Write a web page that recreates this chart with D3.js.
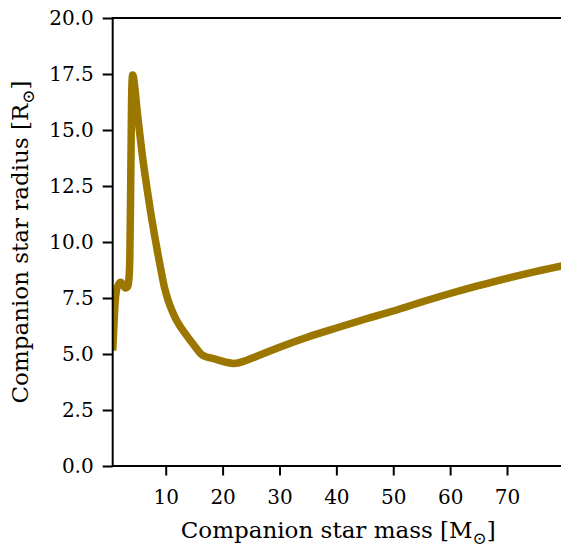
<!DOCTYPE html>
<html>
<head>
<meta charset="utf-8">
<script src="https://cdn.jsdelivr.net/npm/d3@7"></script>
<style>
  html, body { margin: 0; padding: 0; background: #fff; }
  svg text { font-family: "DejaVu Serif", "Liberation Serif", serif; fill: #000; }
</style>
</head>
<body>
<svg id="chart" width="561" height="549"></svg>
<script>
// Companion star mass (solar masses) and radius (solar radii)
const companionMass = [
  0.68, 0.9, 1.1, 1.35, 1.7, 2.1, 2.5, 2.9, 3.3, 3.55, 3.7, 3.8, 3.9, 4.0, 4.1, 4.2,
  4.35, 4.5, 4.65, 4.9, 5.15, 5.5, 5.9, 6.3, 6.8, 7.4, 8.0, 8.6, 9.2, 9.8, 10.4, 11.0,
  11.7, 12.5, 13.4, 14.5, 15.5, 16.2, 16.8, 17.5, 19.0, 20.5, 22.0, 24.0, 26.0, 28.0, 30.0,
  35.0, 40.0, 45.0, 50.0, 55.0, 60.0, 65.0, 70.0, 75.0, 80.0
];
const companionRadius = [
  5.15, 6.3, 7.3, 7.85, 8.1, 8.2, 8.1, 7.95, 8.0, 8.4, 9.5, 11.5, 14.0, 16.3, 17.25, 17.45,
  17.35, 17.05, 16.7, 16.05, 15.45, 14.7, 13.85, 13.1, 12.25, 11.25, 10.35, 9.5, 8.7, 7.95, 7.42, 7.0,
  6.6, 6.25, 5.92, 5.55, 5.22, 5.0, 4.9, 4.85, 4.75, 4.64, 4.58, 4.7, 4.9, 5.1, 5.3,
  5.76, 6.16, 6.55, 6.92, 7.32, 7.7, 8.05, 8.38, 8.68, 8.95
];
const xTicks = [10, 20, 30, 40, 50, 60, 70];
const yTicks = [0, 2.5, 5, 7.5, 10, 12.5, 15, 17.5, 20];

const lineColor = "#9c7700";
const svg = d3.select("#chart");
const plot = { left: 112.7, right: 563.9, top: 18, bottom: 466 };

const x = d3.scaleLinear().domain([0.68, 80]).range([plot.left, plot.right]);
const y = d3.scaleLinear().domain([0, 20]).range([plot.bottom, plot.top]);

svg.append("defs").append("clipPath").attr("id", "plot-clip")
  .append("rect")
  .attr("x", plot.left).attr("y", plot.top)
  .attr("width", plot.right - plot.left).attr("height", plot.bottom - plot.top);

const points = companionMass.map((m, i) => [m, companionRadius[i]]);
const line = d3.line()
  .x(d => x(d[0]))
  .y(d => y(d[1]))
  .curve(d3.curveMonotoneX);

svg.append("path")
  .datum(points)
  .attr("clip-path", "url(#plot-clip)")
  .attr("fill", "none")
  .attr("stroke", lineColor)
  .attr("stroke-width", 7.5)
  .attr("stroke-linejoin", "round")
  .attr("stroke-linecap", "butt")
  .attr("d", line);

// Frame
svg.append("rect")
  .attr("x", plot.left).attr("y", plot.top)
  .attr("width", plot.right - plot.left).attr("height", plot.bottom - plot.top)
  .attr("fill", "none").attr("stroke", "#000").attr("stroke-width", 2);

// Axes
const xAxis = d3.axisBottom(x).tickValues(xTicks).tickSize(9.5).tickPadding(14)
  .tickFormat(d3.format("d"));
const yAxis = d3.axisLeft(y).tickValues(yTicks).tickSize(10).tickPadding(9)
  .tickFormat(d3.format(".1f"));

const gx = svg.append("g").attr("transform", `translate(0,${plot.bottom})`).call(xAxis);
const gy = svg.append("g").attr("transform", `translate(${plot.left},0)`).call(yAxis);

[gx, gy].forEach(g => {
  g.select(".domain").remove();
  g.selectAll(".tick line").attr("stroke", "#000").attr("stroke-width", 2);
  g.selectAll(".tick text").attr("font-size", 20).attr("font-family", "DejaVu Serif").attr("fill", "#000");
});

// Axis titles
const xTitle = svg.append("text")
  .attr("x", (plot.left + plot.right) / 2)
  .attr("y", 538)
  .attr("text-anchor", "middle")
  .attr("font-size", 23);
xTitle.append("tspan").text("Companion star mass [M");
xTitle.append("tspan").attr("dy", 6).attr("font-size", 17).text("\u2299");
xTitle.append("tspan").attr("dy", -6).text("]");

const yTitle = svg.append("text")
  .attr("transform", `translate(28,${(plot.top + plot.bottom) / 2}) rotate(-90)`)
  .attr("text-anchor", "middle")
  .attr("font-size", 23);
yTitle.append("tspan").text("Companion star radius [R");
yTitle.append("tspan").attr("dy", 6).attr("font-size", 17).text("\u2299");
yTitle.append("tspan").attr("dy", -6).text("]");
</script>
</body>
</html>
